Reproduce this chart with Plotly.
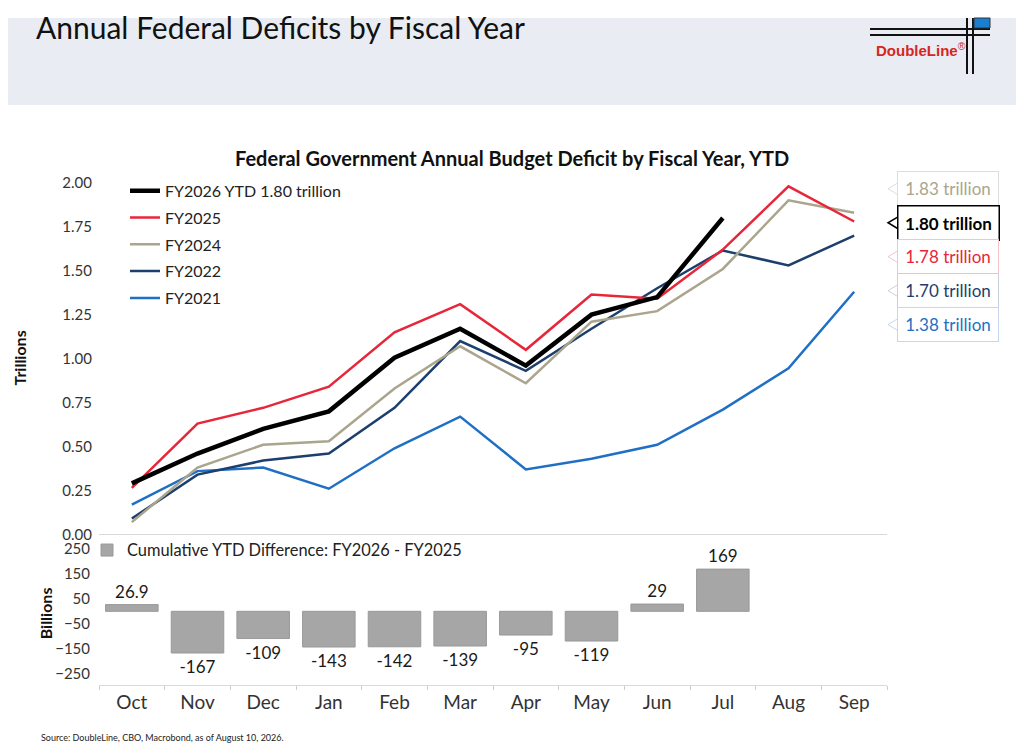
import plotly.graph_objects as go

# data (trillions, fiscal year to date)
months = ["Oct", "Nov", "Dec", "Jan", "Feb", "Mar", "Apr", "May", "Jun", "Jul", "Aug", "Sep"]
fy2026 = [0.29, 0.46, 0.60, 0.70, 1.005, 1.17, 0.96, 1.25, 1.35, 1.80]
fy2025 = [0.265, 0.63, 0.72, 0.84, 1.15, 1.31, 1.05, 1.365, 1.34, 1.62, 1.98, 1.78]
fy2024 = [0.07, 0.38, 0.51, 0.53, 0.83, 1.07, 0.86, 1.21, 1.27, 1.51, 1.90, 1.83]
fy2022 = [0.09, 0.34, 0.42, 0.46, 0.72, 1.10, 0.93, 1.17, 1.40, 1.615, 1.53, 1.70]
fy2021 = [0.17, 0.36, 0.38, 0.26, 0.49, 0.67, 0.37, 0.43, 0.51, 0.71, 0.945, 1.38]
# cumulative difference FY2026 - FY2025 (billions)
diff = [26.9, -167, -109, -143, -142, -139, -95, -119, 29, 169]
bar_ticks = [250, 150, 50, -50, -150, -250]

# figure sits inside the page's body margin; the photo squeezes it a little vertically
W, H = 1008, 746
OX, OY, SY = 8, 16, 0.977
FONT = "Lato, Open Sans, sans-serif"


def px(x):
    # screen pixel -> paper fraction
    return (x - OX) / W


def py(y):
    return 1 - (y - OY) / (SY * H)


series = [
    ("FY2021", fy2021, "#1f6fc5", 2.5, 5),
    ("FY2022", fy2022, "#1d3f6e", 2.5, 4),
    ("FY2024", fy2024, "#aaa58c", 2.5, 3),
    ("FY2025", fy2025, "#e8263a", 2.5, 2),
    ("FY2026 YTD %.2f trillion" % fy2026[-1], fy2026, "#000000", 4.5, 1),
]

fig = go.Figure()
for name, vals, color, width, rank in series:
    fig.add_trace(go.Scatter(
        x=months[:len(vals)], y=vals, mode="lines", name=name,
        line=dict(color=color, width=width),
        legendrank=rank, legendgroup=name, xaxis="x", yaxis="y",
    ))

fig.add_trace(go.Bar(
    x=months[:len(diff)], y=diff, name="Cumulative YTD Difference: FY2026 - FY2025",
    marker=dict(color="#a6a6a6", line=dict(color="#999999", width=1)),
    text=["%g" % v for v in diff], textposition="outside",
    textfont=dict(size=17, color="#1a1a1a", family=FONT),
    cliponaxis=False, width=0.8, xaxis="x2", yaxis="y2", legend="legend2",
))

shapes = [
    # header band
    dict(type="rect", xref="paper", yref="paper", x0=0, x1=1, y0=py(103), y1=1,
         fillcolor="#e9ecf3", line=dict(width=0), layer="below"),
    # logo lines
    dict(type="line", xref="paper", yref="paper", x0=px(870), x1=px(990), y0=py(27), y1=py(27),
         line=dict(color="#111111", width=2)),
    dict(type="line", xref="paper", yref="paper", x0=px(870), x1=px(990), y0=py(33), y1=py(33),
         line=dict(color="#111111", width=2)),
    dict(type="line", xref="paper", yref="paper", x0=px(967), x1=px(967), y0=1, y1=py(72),
         line=dict(color="#111111", width=2)),
    dict(type="line", xref="paper", yref="paper", x0=px(973), x1=px(973), y0=1, y1=py(72),
         line=dict(color="#111111", width=2)),
    dict(type="rect", xref="paper", yref="paper", x0=px(974), x1=px(990), y0=py(26), y1=1,
         fillcolor="#1b7fd1", line=dict(color="#333333", width=1)),
]

annotations = [
    dict(text="Annual Federal Deficits by Fiscal Year", x=px(34), y=py(25), xref="paper", yref="paper",
         xanchor="left", yanchor="middle", showarrow=False,
         font=dict(size=30, color="#111111", family=FONT)),
    dict(text="<b>DoubleLine</b><sup>®</sup>", x=px(921), y=py(48), xref="paper", yref="paper",
         xanchor="center", yanchor="middle", showarrow=False,
         font=dict(size=15, color="#d7261e", family="Liberation Sans, Arial")),
    dict(text="<b>Federal Government Annual Budget Deficit by Fiscal Year, YTD</b>", x=px(512), y=py(156),
         xref="paper", yref="paper", xanchor="center", yanchor="middle", showarrow=False,
         font=dict(size=20, color="#111111", family=FONT)),
    dict(text="<b>Trillions</b>", x=px(20), y=py(357), xref="paper", yref="paper", textangle=-90,
         xanchor="center", yanchor="middle", showarrow=False,
         font=dict(size=16, color="#111111", family=FONT)),
    dict(text="<b>Billions</b>", x=px(45), y=py(612), xref="paper", yref="paper", textangle=-90,
         xanchor="center", yanchor="middle", showarrow=False,
         font=dict(size=16, color="#111111", family=FONT)),
    dict(text="Source: DoubleLine, CBO, Macrobond, as of August 10, 2026.", x=px(39), y=py(736),
         xref="paper", yref="paper", xanchor="left", yanchor="middle", showarrow=False,
         font=dict(size=9, color="#222222", family=FONT)),
]

# end-value callouts on the right
callouts = [
    ("%.2f trillion" % fy2024[-1], "#aaa58c", "#dddddd", False),
    ("%.2f trillion" % fy2026[-1], "#000000", "#000000", True),
    ("%.2f trillion" % fy2025[-1], "#e8263a", "#f3c4c8", False),
    ("%.2f trillion" % fy2022[-1], "#1d3f6e", "#c9d0dc", False),
    ("%.2f trillion" % fy2021[-1], "#1f6fc5", "#c5d6ee", False),
]
for i, (txt, color, border, bold) in enumerate(callouts):
    cy = 187 + i * 34
    annotations.append(dict(
        text="<b>%s</b>" % txt if bold else txt, x=px(948), y=py(cy), xref="paper", yref="paper",
        xanchor="center", yanchor="middle", showarrow=False, width=96, height=29,
        bgcolor="white", bordercolor=border, borderwidth=1.5 if bold else 1, borderpad=2,
        font=dict(size=17, color=color, family=FONT),
    ))
    shapes.append(dict(
        type="path", xref="paper", yref="paper",
        path="M %f %f L %f %f L %f %f" % (px(898), py(cy - 6), px(888), py(cy), px(898), py(cy + 6)),
        line=dict(color=border if not bold else "#000000", width=1.5 if bold else 1),
    ))

fig.update_layout(
    width=W, height=H, autosize=False,
    margin=dict(l=0, r=0, t=0, b=0),
    paper_bgcolor="white", plot_bgcolor="white",
    font=dict(family=FONT, color="#333333"),
    showlegend=True,
    legend=dict(x=px(125), y=py(172), xanchor="left", yanchor="top", bgcolor="rgba(0,0,0,0)",
                font=dict(size=16, color="#222222", family=FONT), tracegroupgap=3,
                traceorder="grouped"),
    legend2=dict(x=px(87), y=py(549), xanchor="left", yanchor="middle", bgcolor="rgba(0,0,0,0)",
                 font=dict(size=16.4, color="#222222", family=FONT)),
    xaxis=dict(domain=[px(99), px(887)], anchor="y", type="category", categoryarray=months,
               range=[-0.5, 11.5], showticklabels=False, ticks="", showgrid=False,
               showline=True, linecolor="#d9d9d9", linewidth=1),
    yaxis=dict(domain=[py(533), py(181)], anchor="x", range=[0, 2.0], dtick=0.25, tickformat=".2f",
               showgrid=False, zeroline=False, showline=False, ticks="", ticklabelstandoff=6,
               tickfont=dict(size=15, color="#333333", family=FONT)),
    xaxis2=dict(domain=[px(99), px(887)], anchor="y2", type="category", categoryarray=months,
                range=[-0.5, 11.5], showgrid=False, showline=True, linecolor="#d9d9d9", linewidth=1,
                ticks="outside", tickson="boundaries", ticklen=4, tickcolor="#cccccc",
                tickfont=dict(size=19, color="#333333", family=FONT)),
    yaxis2=dict(domain=[py(684), py(533)], anchor="x2", range=[-296, 308], tickvals=bar_ticks,
                showgrid=False, zeroline=False, showline=False, ticks="", ticklabelstandoff=8,
                tickfont=dict(size=15, color="#333333", family=FONT)),
    shapes=shapes,
    annotations=annotations,
)

fig.write_html("out.html")
